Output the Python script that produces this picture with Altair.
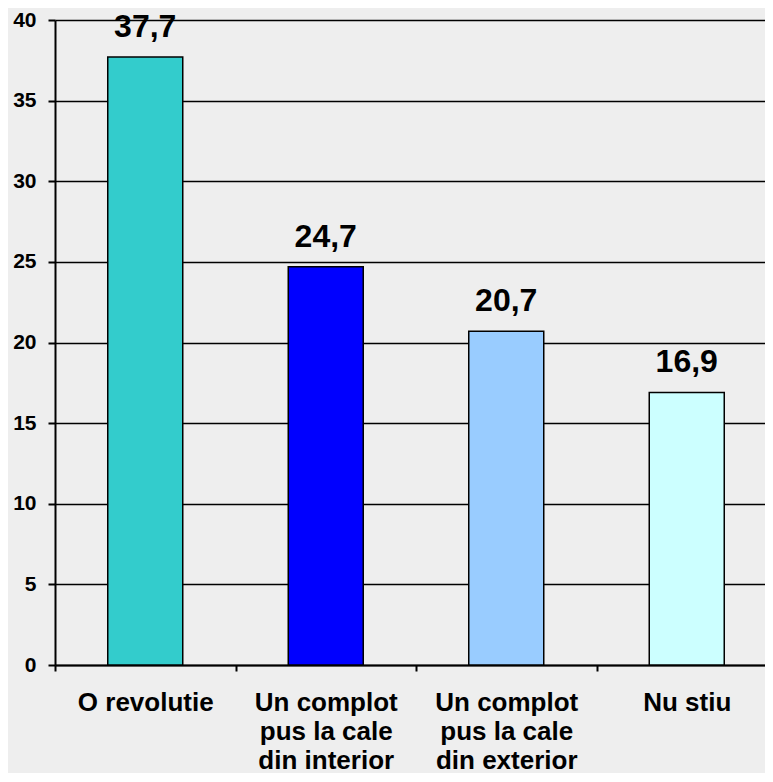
import altair as alt
import pandas as pd

categories = [
    "O revolutie",
    "Un complot|pus la cale|din interior",
    "Un complot|pus la cale|din exterior",
    "Nu stiu",
]
values = [37.7, 24.7, 20.7, 16.9]
value_labels = ["37,7", "24,7", "20,7", "16,9"]
colors = ["#33CCCC", "#0000FF", "#99CCFF", "#CCFFFF"]
y_ticks = [0, 5, 10, 15, 20, 25, 30, 35, 40]

df = pd.DataFrame({"cat": categories, "val": values, "lab": value_labels})

FONT = "Liberation Sans"

x_enc = alt.X(
    "cat:N",
    sort=categories,
    scale=alt.Scale(paddingInner=0, paddingOuter=0),
    axis=alt.Axis(
        title=None,
        labelExpr="split(datum.label, '|')",
        labelAngle=0,
        tickBand="extent",
        labelFont=FONT,
        labelFontSize=26,
        labelFontWeight="bold",
        labelColor="black",
        labelLineHeight=29,
        labelBaseline="top",
        labelPadding=18,
        tickSize=6,
        tickWidth=2,
        tickColor="black",
        domainColor="black",
        domainWidth=2,
        grid=False,
    ),
)

y_enc = alt.Y(
    "val:Q",
    scale=alt.Scale(domain=[0, 40], nice=False),
    axis=alt.Axis(
        title=None,
        values=y_ticks,
        grid=True,
        gridColor="black",
        gridWidth=1.5,
        gridOpacity=1,
        labelFont=FONT,
        labelFontSize=21,
        labelFontWeight="bold",
        labelColor="black",
        labelPadding=12,
        tickSize=7,
        tickWidth=2,
        tickColor="black",
        domainColor="black",
        domainWidth=2,
    ),
)

bars = alt.Chart(df).mark_bar(size=75, stroke="black", strokeWidth=1.5).encode(
    x=x_enc,
    y=y_enc,
    color=alt.Color("cat:N", scale=alt.Scale(domain=categories, range=colors), legend=None),
)

texts = alt.Chart(df).mark_text(
    dy=-20, baseline="alphabetic", fontSize=32, fontWeight="bold", font=FONT, color="black"
).encode(x=x_enc, y=y_enc, text="lab:N")

chart = (
    alt.layer(bars, texts)
    .properties(
        width=722,
        height=645,
        padding={"left": 47, "top": 12, "right": -12, "bottom": 108},
        autosize="none",
        background="#eeeeee",
    )
    .configure_view(stroke=None)
)

chart.save("out.html", embed_options={"renderer": "svg", "actions": False})
